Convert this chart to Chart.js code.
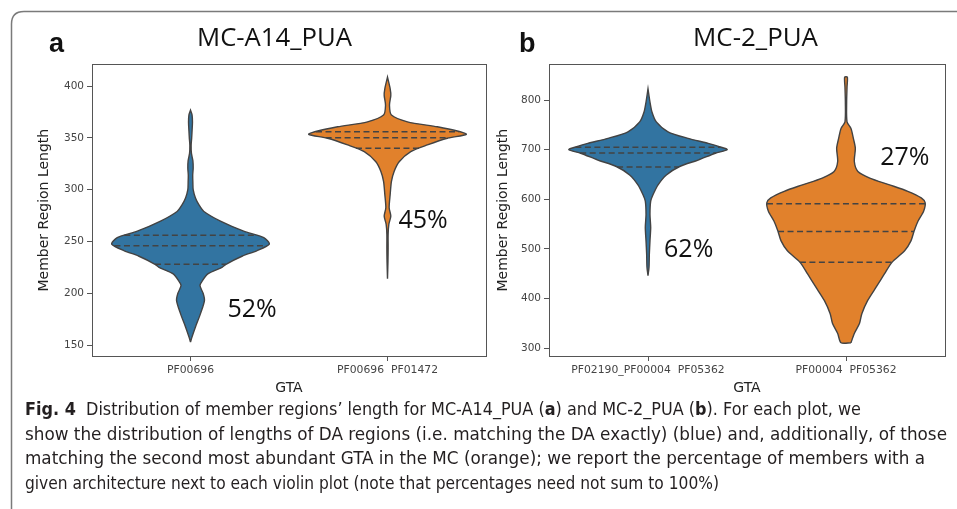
<!DOCTYPE html>
<html><head><meta charset="utf-8">
<script src="https://cdn.jsdelivr.net/npm/chart.js@4.4.1/dist/chart.umd.min.js"></script>
<style>
html,body{margin:0;padding:0;background:#fff;width:957px;height:509px;overflow:hidden;position:relative;}
#c1,#c2{position:absolute;top:55px;}
#c1{left:20px;}
#c2{left:480px;}
svg{position:absolute;left:0;top:0;}
</style></head><body>
<canvas id="c1" width="470" height="345"></canvas>
<canvas id="c2" width="477" height="345"></canvas>
<svg width="957" height="509" xmlns="http://www.w3.org/2000/svg">
  <path d="M11.5 509 V24 Q11.5 11.5 24 11.5 H957" fill="none" stroke="#7a7a7a" stroke-width="1.5"/>
  <text x="49" y="52" font-family="Liberation Sans, Arial, sans-serif" font-weight="bold" font-size="27" fill="#111">a</text>
  <text x="519" y="52" font-family="Liberation Sans, Arial, sans-serif" font-weight="bold" font-size="27" fill="#111">b</text>
  <text x="197" y="46" font-family="Open Sans" font-size="25" fill="#111" textLength="155" lengthAdjust="spacingAndGlyphs">MC-A14_PUA</text>
  <text x="693" y="46" font-family="Open Sans" font-size="25" fill="#111" textLength="125" lengthAdjust="spacingAndGlyphs">MC-2_PUA</text>
  <g font-family="Liberation Sans Narrow, DejaVu Sans Condensed, Liberation Sans, sans-serif" font-size="17.5" fill="#231f20">
    <text x="25" y="415" textLength="836" lengthAdjust="spacingAndGlyphs"><tspan font-weight="bold">Fig. 4</tspan>&#160; Distribution of member regions’ length for MC-A14_PUA (<tspan font-weight="bold">a</tspan>) and MC-2_PUA (<tspan font-weight="bold">b</tspan>). For each plot, we</text>
    <text x="25" y="439.5" textLength="922" lengthAdjust="spacingAndGlyphs">show the distribution of lengths of DA regions (i.e. matching the DA exactly) (blue) and, additionally, of those</text>
    <text x="25" y="464" textLength="900" lengthAdjust="spacingAndGlyphs">matching the second most abundant GTA in the MC (orange); we report the percentage of members with a</text>
    <text x="25" y="488.5" textLength="694" lengthAdjust="spacingAndGlyphs">given architecture next to each violin plot (note that percentages need not sum to 100%)</text>
  </g>
</svg>
<script>
// ---------- data ----------
const categoriesA = ['PF00696', 'PF00696  PF01472'];
const categoriesB = ['PF02190_PF00004  PF05362', 'PF00004  PF05362'];
const yTicksA = [150, 200, 250, 300, 350, 400];
const yTicksB = [300, 400, 500, 600, 700, 800];

// violin profiles: member region length values and relative density width (1 = widest)
const aBlueLen = [153,158,167.5,180.4,193,200,207.5,212,218.7,225,228,236,241,247.4,253.8,260,269.7,279,285,292,300,307,314,321,328,335,343,350,357,365,372,376.7];
const aBlueDen = [0,0.02,0.063,0.127,0.177,0.16,0.12,0.15,0.22,0.4,0.45,0.66,0.84,1.0,0.93,0.675,0.38,0.17,0.11,0.063,0.034,0.03,0.028,0.034,0.03,0.012,0.008,0.015,0.02,0.025,0.02,0];
const aOrangeLen = [214,231,244,257,266.6,274.5,282.5,295.3,308,317.6,327,336.8,343.2,349.6,353.4,356.6,360.7,365.5,372,381.5,391,397.4,408.6];
const aOrangeDen = [0,0.006,0.008,0.008,0.017,0.042,0.021,0.034,0.05,0.084,0.148,0.295,0.506,0.76,1.0,0.886,0.633,0.253,0.05,0.025,0.042,0.034,0];
const bBlueLen = [446,463,489,516,543,569,596,609,629,649,666,679,692.7,700,706,712.7,722.7,736,756,776,796,822.7];
const bBlueDen = [0,0.013,0.017,0.025,0.034,0.025,0.034,0.063,0.127,0.232,0.4,0.633,0.85,1.0,0.9,0.76,0.506,0.253,0.105,0.05,0.025,0];
const bOrangeLen = [310.7,329.3,349.3,369.3,396,422.7,449.3,472.7,496,516,536,556,576,592.7,602.7,616,629,642.7,656,676,702.7,722.7,742.7,756,796,826,846];
const bOrangeDen = [0.063,0.105,0.17,0.2,0.274,0.38,0.485,0.58,0.74,0.82,0.86,0.91,0.98,1.0,0.95,0.78,0.55,0.3,0.15,0.105,0.118,0.093,0.063,0.013,0.008,0.013,0.017];

// quartiles [Q1, median, Q3]
const aBlueQ = [228, 246, 256];
const aOrangeQ = [340, 350, 356];
const bBlueQ = [665, 693, 705];
const bOrangeQ = [473, 535, 591];

// percentage annotations
const pctA = ['52%', '45%'];
const pctB = ['62%', '27%'];

// ---------- styling ----------
const BLUE = '#3274a1', ORANGE = '#e1812c', EDGE = '#434343';
const HALF = 0.4;
Chart.defaults.font.family = 'DejaVu Sans';

function widthAt(vals, den, q) {
  for (let i = 0; i < vals.length - 1; i++) {
    if (q >= vals[i] && q <= vals[i+1]) {
      const t = (q - vals[i]) / (vals[i+1] - vals[i]);
      return den[i] + t * (den[i+1] - den[i]);
    }
  }
  return 0;
}

function violin(center, vals, den, color) {
  const right = vals.map((v, i) => ({x: center + den[i] * HALF, y: v}));
  const left = vals.map((v, i) => ({x: center - den[i] * HALF, y: v})).reverse();
  return {
    data: right.concat(left, [right[0]]),
    showLine: true, fill: 'shape', backgroundColor: color, borderColor: EDGE,
    borderWidth: 1.4, pointRadius: 0, tension: 0.25, order: 2
  };
}
function quartiles(center, vals, den, qs) {
  return qs.map(q => {
    const w = widthAt(vals, den, q) * HALF;
    return {
      data: [{x: center - w, y: q}, {x: center + w, y: q}],
      showLine: true, fill: false, borderColor: EDGE, borderWidth: 1.5,
      borderDash: [6, 3.5], pointRadius: 0, order: 1
    };
  });
}

const framePlugin = {
  id: 'frame',
  afterDraw(chart) {
    const {ctx, chartArea: a} = chart;
    ctx.save();
    ctx.strokeStyle = '#555'; ctx.lineWidth = 1;
    ctx.strokeRect(Math.round(a.left) + 0.5, Math.round(a.top) + 0.5, Math.round(a.right - a.left), Math.round(a.bottom - a.top));
    ctx.restore();
  }
};
const pctPlugin = {
  id: 'pct',
  afterDatasetsDraw(chart, args, opts) {
    const {ctx, scales: {x, y}} = chart;
    ctx.save();
    ctx.font = '25px "Open Sans"';
    ctx.fillStyle = '#111';
    ctx.textBaseline = 'alphabetic';
    ctx.textAlign = 'left';
    opts.texts.forEach((t, i) => ctx.fillText(t, x.getPixelForValue(opts.xs[i]), y.getPixelForValue(opts.ys[i])));
    ctx.restore();
  }
};

function makeChart(id, cats, datasets, yMin, yMax, yTicks, yW, padRight, yTitlePad, pct) {
  return new Chart(document.getElementById(id), {
    type: 'scatter',
    data: {datasets},
    plugins: [framePlugin, pctPlugin],
    options: {
      responsive: false, animation: false, events: [],
      devicePixelRatio: 1,
      layout: {padding: {top: 7, right: padRight, left: 0, bottom: 0}},
      plugins: {legend: {display: false}, tooltip: {enabled: false}, pct},
      scales: {
        x: {
          type: 'linear', min: -0.5, max: 1.5,
          afterBuildTicks: s => { s.ticks = cats.map((c, i) => ({value: i})); },
          afterFit: s => { s.height = 44; },
          grid: {display: true, drawOnChartArea: false, drawTicks: true, tickLength: 5, color: '#555'},
          border: {display: true, color: '#555', width: 1},
          ticks: {color: '#444', font: {size: 10.8}, padding: 3, maxRotation: 0, autoSkip: false,
                  callback: v => cats[v]},
          title: {display: true, text: 'GTA', color: '#222', font: {size: 14}, padding: {top: 0, bottom: 3}}
        },
        y: {
          type: 'linear', min: yMin, max: yMax,
          afterBuildTicks: s => { s.ticks = yTicks.map(v => ({value: v})); },
          afterFit: s => { s.width = yW; },
          grid: {display: true, drawOnChartArea: false, drawTicks: true, tickLength: 5, color: '#555'},
          border: {display: true, color: '#555', width: 1},
          ticks: {color: '#444', font: {size: 10.5}, padding: 3},
          title: {display: true, text: 'Member Region Length', color: '#222', font: {size: 14}, padding: {top: yTitlePad, bottom: 0}}
        }
      }
    }
  });
}

makeChart('c1', categoriesA,
  [violin(0, aBlueLen, aBlueDen, BLUE), violin(1, aOrangeLen, aOrangeDen, ORANGE)]
    .concat(quartiles(0, aBlueLen, aBlueDen, aBlueQ), quartiles(1, aOrangeLen, aOrangeDen, aOrangeQ)),
  139.5, 421, yTicksA, 72, 4, 15.6,
  {texts: pctA, xs: [0.188, 1.056], ys: [176.8, 263]});

makeChart('c2', categoriesB,
  [violin(0, bBlueLen, bBlueDen, BLUE), violin(1, bOrangeLen, bOrangeDen, ORANGE)]
    .concat(quartiles(0, bBlueLen, bBlueDen, bBlueQ), quartiles(1, bOrangeLen, bOrangeDen, bOrangeQ)),
  284, 872, yTicksB, 69, 12, 14.6,
  {texts: pctB, xs: [0.081, 1.173], ys: [484, 670]});
</script>
</body></html>
